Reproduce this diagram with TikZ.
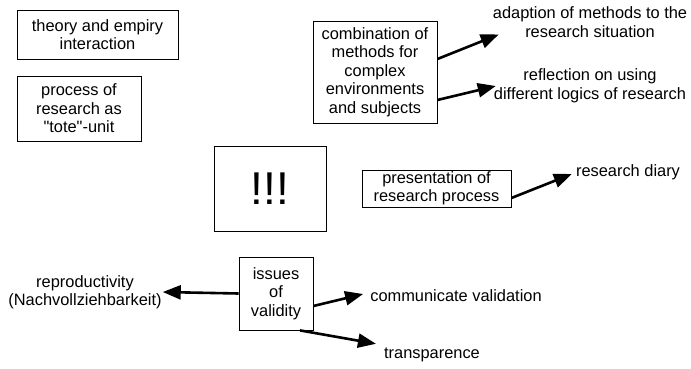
\documentclass[tikz,border=0pt]{standalone}
\usepackage{fontspec}
\setmainfont{Liberation Sans}
\usepackage{tikz}
\usetikzlibrary{arrows.meta}
\tikzstyle{box} = [rectangle, draw=black, line width=0.8pt, align=center, inner sep=0pt, font=\fontsize{16.4}{18.5}\selectfont]
\tikzstyle{note} = [align=center, inner sep=1pt, font=\fontsize{16.4}{18.5}\selectfont]
\tikzstyle{arrow} = [line width=2.6pt, -{Triangle[length=18pt,width=14pt]}]

\begin{document}
\begin{tikzpicture}[x=1pt,y=-1pt]
\useasboundingbox (0,0) rectangle (691,368);
\node (theory) [box, minimum width=161pt, minimum height=49pt] at (97.5,34.5) {theory and empiry\\interaction};
\node (tote) [box, minimum width=124pt, minimum height=65pt] at (79,108.5) {process of\\research as\\\textquotedbl tote\textquotedbl-unit};
\node (bang) [box, minimum width=112pt, minimum height=85pt, font=\fontsize{46}{50}\selectfont] at (270,188.5) {!!!};
\node (comb) [box, minimum width=124pt, minimum height=102pt] at (375,72) {combination of\\methods for\\complex\\environments\\and subjects};
\node (pres) [box, minimum width=149pt, minimum height=37pt] at (436.5,188.5) {presentation of\\research process};
\node (issues) [box, minimum width=74pt, minimum height=73pt] at (276,293.5) {issues\\of\\validity};
\node (adapt) [note] at (590,22) {adaption of methods to the\\research situation};
\node (reflect) [note] at (590,86) {reflection on using\\different logics of research};
\node (diary) [note] at (628,172) {research diary};
\node (repro) [note] at (85,292) {reproductivity\\(Nachvollziehbarkeit)};
\node (comm) [note] at (456,296) {communicate validation};
\node (trans) [note] at (432,355) {transparence};
\draw [arrow] ([yshift=13pt]comb.east) -- ([xshift=7pt,yshift=4pt]adapt.south west);
\draw [arrow] ([yshift=-28pt]comb.east) -- ([xshift=3pt]reflect.west);
\draw [arrow] ([yshift=-9.5pt]pres.east) -- ([xshift=-3pt,yshift=-2pt]diary.west);
\draw [arrow] (issues.west) -- (repro.east);
\draw [arrow] ([yshift=-12.5pt]issues.east) -- ([xshift=-6pt,yshift=2pt]comm.west);
\draw [arrow] ([xshift=24pt]issues.south) -- ([xshift=-7pt,yshift=3pt]trans.north west);
\end{tikzpicture}
\end{document}
